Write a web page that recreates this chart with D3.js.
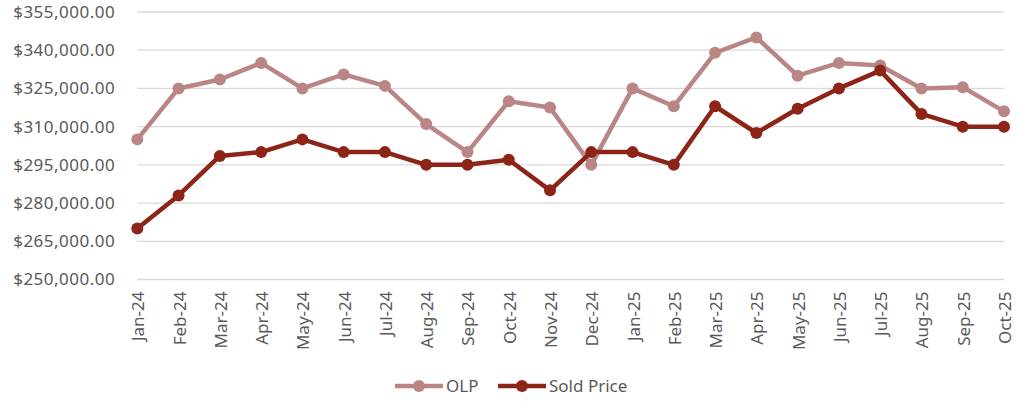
<!DOCTYPE html>
<html>
<head>
<meta charset="utf-8">
<script src="https://cdn.jsdelivr.net/npm/d3@7"></script>
<style>
  html, body { margin: 0; padding: 0; background: #fff; }
  svg { display: block; font-family: "Noto Sans", "Open Sans", sans-serif; }
</style>
</head>
<body>
<div id="chart"></div>
<script>
// Chart data
const months = ["Jan-24", "Feb-24", "Mar-24", "Apr-24", "May-24", "Jun-24", "Jul-24", "Aug-24",
    "Sep-24", "Oct-24", "Nov-24", "Dec-24", "Jan-25", "Feb-25", "Mar-25", "Apr-25",
    "May-25", "Jun-25", "Jul-25", "Aug-25", "Sep-25", "Oct-25"];
const olp = [305000, 325000, 328500, 335000, 325000, 330500, 326000, 311000,
    300000, 320000, 317500, 295000, 325000, 318000, 339000, 345000,
    330000, 335000, 334000, 325000, 325500, 316000];
const soldPrice = [270000, 283000, 298500, 300000, 305000, 300000, 300000, 295000,
    295000, 297000, 285000, 300000, 300000, 295000, 318000, 307500,
    317000, 325000, 332000, 315000, 310000, 310000];
const yTicks = [250000, 265000, 280000, 295000, 310000, 325000, 340000, 355000];
const seriesNames = ["OLP", "Sold Price"];
const seriesColors = ["#BA8585", "#8C2418"];

const width = 1018;
const height = 405;
const margin = {top: 12, right: 14, bottom: 125.5, left: 137.3};

const svg = d3.select("#chart")
    .append("svg")
    .attr("width", width)
    .attr("height", height);

const x = d3.scalePoint()
    .domain(months)
    .range([margin.left, width - margin.right]);

const y = d3.scaleLinear()
    .domain([250000, 355000])
    .range([height - margin.bottom, margin.top]);

const fmt = d3.format("$,.2f");

// Gridlines
svg.append("g")
    .selectAll("line")
    .data(yTicks)
    .join("line")
    .attr("x1", margin.left)
    .attr("x2", width - margin.right)
    .attr("y1", d => y(d))
    .attr("y2", d => y(d))
    .attr("stroke", "#D9D9D9")
    .attr("stroke-width", 1.3);

// Y axis labels
const yAxis = svg.append("g")
    .attr("transform", `translate(${margin.left - 22},0)`)
    .call(d3.axisLeft(y).tickValues(yTicks).tickFormat(fmt).tickSize(0).tickPadding(0));
yAxis.select(".domain").remove();
yAxis.selectAll("text")
    .attr("fill", "#595959")
    .style("font-size", "17px")
    .style("letter-spacing", "0.5px")
    .style("font-family", "'Noto Sans', sans-serif");

// X axis labels (rotated)
svg.append("g")
    .selectAll("text")
    .data(months)
    .join("text")
    .attr("transform", d => `translate(${x(d) + 1},${height - margin.bottom + 12}) rotate(-90)`)
    .attr("text-anchor", "end")
    .attr("dy", "0.35em")
    .attr("fill", "#595959")
    .style("font-size", "17px")
    .text(d => d);

// Lines and markers
const seriesData = [olp, soldPrice];
const line = d3.line()
    .x((d, i) => x(months[i]))
    .y(d => y(d));

seriesData.forEach((values, k) => {
    const g = svg.append("g");
    g.append("path")
        .datum(values)
        .attr("fill", "none")
        .attr("stroke", seriesColors[k])
        .attr("stroke-width", 4.5)
        .attr("stroke-linejoin", "round")
        .attr("d", line);
    g.selectAll("circle")
        .data(values)
        .join("circle")
        .attr("cx", (d, i) => x(months[i]))
        .attr("cy", d => y(d))
        .attr("r", 6)
        .attr("fill", seriesColors[k]);
});

// Legend
const legendX = [395, 498];
const legendY = 386;
const legend = svg.append("g");
seriesNames.forEach((name, k) => {
    const lg = legend.append("g").attr("transform", `translate(${legendX[k]},${legendY})`);
    lg.append("line")
        .attr("x1", 0).attr("x2", 48)
        .attr("y1", 0).attr("y2", 0)
        .attr("stroke", seriesColors[k])
        .attr("stroke-width", 4.5);
    lg.append("circle")
        .attr("cx", 24).attr("cy", 0).attr("r", 6)
        .attr("fill", seriesColors[k]);
    lg.append("text")
        .attr("x", 51)
        .attr("dy", "0.35em")
        .attr("fill", "#595959")
        .style("font-size", "17px")
        .text(name);
});
</script>
</body>
</html>
